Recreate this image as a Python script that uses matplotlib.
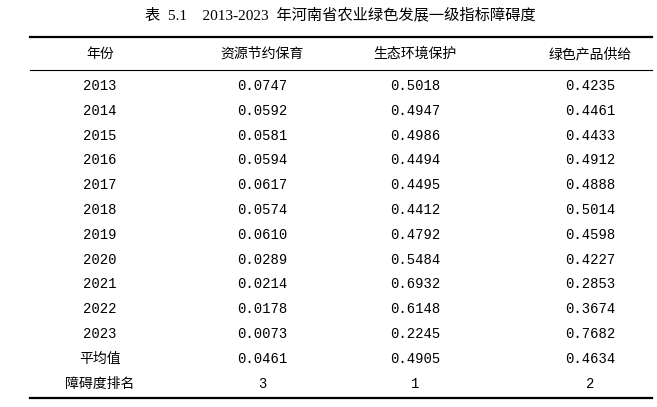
import matplotlib
matplotlib.use("Agg")
import matplotlib.pyplot as plt
from matplotlib.lines import Line2D

plt.rcParams['font.family'] = ['Noto Sans CJK SC', 'DejaVu Sans']

title = "表  5.1    2013-2023  年河南省农业绿色发展一级指标障碍度"
headers = ["年份", "资源节约保育", "生态环境保护", "绿色产品供给"]
years = ["2013", "2014", "2015", "2016", "2017", "2018", "2019", "2020",
         "2021", "2022", "2023", "平均值", "障碍度排名"]
resource = ["0.0747", "0.0592", "0.0581", "0.0594", "0.0617", "0.0574", "0.0610",
            "0.0289", "0.0214", "0.0178", "0.0073", "0.0461", "3"]
ecology = ["0.5018", "0.4947", "0.4986", "0.4494", "0.4495", "0.4412", "0.4792",
           "0.5484", "0.6932", "0.6148", "0.2245", "0.4905", "1"]
green = ["0.4235", "0.4461", "0.4433", "0.4912", "0.4888", "0.5014", "0.4598",
         "0.4227", "0.2853", "0.3674", "0.7682", "0.4634", "2"]

W, H = 657, 407
fig = plt.figure(figsize=(W / 100, H / 100), dpi=100)
fig.patch.set_facecolor("white")


def px(x, y):
    return x / W, 1 - y / H


def hline(y, lw):
    x0, y0 = px(30, y)
    x1, _ = px(652, y)
    fig.add_artist(Line2D([x0, x1], [y0, y0], color="black", lw=lw))


fig.text(*px(340, 15), title, ha="center", va="center", fontsize=11,
         family=["Liberation Serif", "Noto Sans CJK SC"])
hline(37, 1.6)
hline(70, 0.8)
hline(398, 1.6)

col_x = [100, 262, 415, 590]
for cx, h in zip(col_x, headers):
    fig.text(*px(cx, 54), h, ha="center", va="center", fontsize=10)

for i, row in enumerate(zip(years, resource, ecology, green)):
    y = 86 + i * 24.8
    for cx, v in zip(col_x, row):
        fig.text(*px(cx, y), v, ha="center", va="center", fontsize=10,
                 family=["Liberation Mono", "Noto Sans CJK SC"])

fig.savefig("out.png", dpi=100)
